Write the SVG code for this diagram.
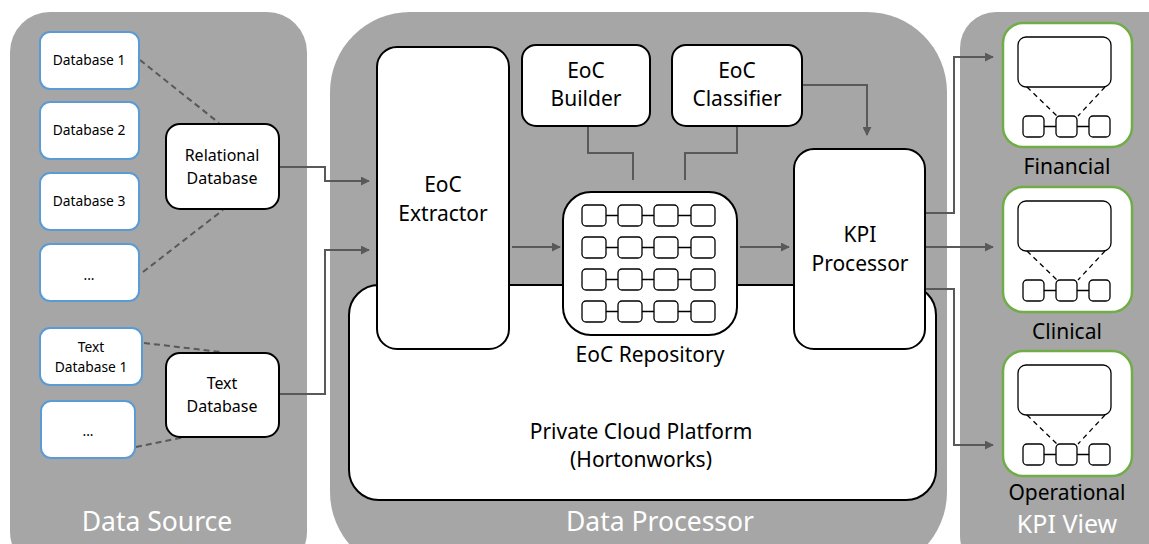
<svg xmlns="http://www.w3.org/2000/svg" width="1149" height="544" viewBox="0 0 1149 544">
<style>
.panel{fill:#a6a6a6}
.src{fill:#fff;stroke:#5b9bd5;stroke-width:2}
.box{fill:#fff;stroke:#000;stroke-width:2}
.card{fill:#fff;stroke:#70ad47;stroke-width:2.5}
.cell{fill:#fff;stroke:#000;stroke-width:1.3}
.link{fill:none;stroke:#000;stroke-width:1.3}
.dash{fill:none;stroke:#000;stroke-width:1.3;stroke-dasharray:5,4}
.gdash{fill:none;stroke:#595959;stroke-width:2;stroke-dasharray:6,4}
.conn{fill:none;stroke:#595959;stroke-width:2}
.t{font-family:"Noto Sans","Open Sans",sans-serif;fill:#000;text-anchor:middle}
.s{font-size:13.8px}
.m{font-size:16px}
.l{font-size:21px}
.w{font-family:"Noto Sans","Open Sans",sans-serif;fill:#fff;text-anchor:middle;font-size:26.5px}
</style>
<defs>
<marker id="ah" viewBox="0 0 10 10" refX="9" refY="5" markerWidth="4.5" markerHeight="4.5" orient="auto" markerUnits="strokeWidth">
<path d="M0,0 L10,5 L0,10 z" fill="#595959"/>
</marker>
</defs>

<g id="panel-data-source">
<rect class="panel" x="10" y="12" width="297" height="560" rx="40"/>
<text class="w" x="157" y="531">Data Source</text>
</g>
<g id="panel-data-processor">
<rect class="panel" x="330" y="12" width="617" height="560" rx="80"/>
<text class="w" x="660" y="531">Data Processor</text>
</g>
<g id="panel-kpi-view">
<rect class="panel" x="960" y="12" width="230" height="560" rx="36"/>
<text class="w" x="1067" y="533" style="font-size:25px">KPI View</text>
</g>

<g id="private-cloud">
<rect class="box" x="349" y="285" width="587" height="215" rx="30"/>
<text class="t l" x="641" y="439">Private Cloud Platform</text>
<text class="t l" x="641" y="467">(Hortonworks)</text>
</g>

<g id="connectors">
<path class="gdash" d="M140,60 L219,123"/>
<path class="gdash" d="M143,272 L223,210"/>
<path class="gdash" d="M144,343 L221,352"/>
<path class="gdash" d="M136,447 L185,437"/>
<path class="conn" d="M279,167 H325 V181 H369" marker-end="url(#ah)"/>
<path class="conn" d="M279,394 H325 V250 H369" marker-end="url(#ah)"/>
<path class="conn" d="M512,247 H560" marker-end="url(#ah)"/>
<path class="conn" d="M740,247 H789" marker-end="url(#ah)"/>
<path class="conn" d="M588,126 V153 H633 V180"/>
<path class="conn" d="M737,126 V153 H685 V180"/>
<path class="conn" d="M802,85 H867 V135" marker-end="url(#ah)"/>
<path class="conn" d="M925,213 H954 V57 H993" marker-end="url(#ah)"/>
<path class="conn" d="M925,247 H993" marker-end="url(#ah)"/>
<path class="conn" d="M925,289 H954 V445 H993" marker-end="url(#ah)"/>
</g>

<g id="db1"><rect class="src" x="40" y="32" width="99" height="57" rx="10"/><text class="t s" x="89" y="65">Database 1</text></g>
<g id="db2"><rect class="src" x="40" y="102" width="99" height="57" rx="10"/><text class="t s" x="89" y="135">Database 2</text></g>
<g id="db3"><rect class="src" x="40" y="173" width="99" height="57" rx="10"/><text class="t s" x="89" y="206">Database 3</text></g>
<g id="db-more"><rect class="src" x="40" y="244" width="99" height="57" rx="10"/><text class="t s" x="89" y="280">...</text></g>
<g id="textdb1"><rect class="src" x="40" y="328" width="102" height="57" rx="10"/><text class="t s" x="91" y="352">Text</text><text class="t s" x="91" y="372">Database 1</text></g>
<g id="textdb-more"><rect class="src" x="41" y="401" width="94" height="57" rx="10"/><text class="t s" x="88" y="436">...</text></g>

<g id="relational-db"><rect class="box" x="166" y="124" width="113" height="85" rx="14"/><text class="t m" x="222" y="161">Relational</text><text class="t m" x="222" y="184">Database</text></g>
<g id="text-db"><rect class="box" x="166" y="353" width="113" height="84" rx="14"/><text class="t m" x="222" y="389">Text</text><text class="t m" x="222" y="412">Database</text></g>

<g id="eoc-extractor"><rect class="box" x="377" y="47" width="132" height="302" rx="20"/><text class="t l" x="443" y="192">EoC</text><text class="t l" x="443" y="221">Extractor</text></g>
<g id="eoc-builder"><rect class="box" x="522" y="45" width="128" height="81" rx="14"/><text class="t l" x="586" y="78">EoC</text><text class="t l" x="586" y="106">Builder</text></g>
<g id="eoc-classifier"><rect class="box" x="672" y="45" width="130" height="81" rx="14"/><text class="t l" x="737" y="78">EoC</text><text class="t l" x="737" y="106">Classifier</text></g>

<g id="eoc-repository">
<rect class="box" x="563" y="192" width="174" height="143" rx="28"/>
<g id="repo-links">
<path class="link" d="M606,215.5 H618 M642,215.5 H654 M678,215.5 H691 M606,247.5 H618 M642,247.5 H654 M678,247.5 H691 M606,279.5 H618 M642,279.5 H654 M678,279.5 H691 M606,311.5 H618 M642,311.5 H654 M678,311.5 H691"/>
</g>
<rect class="cell" x="582" y="205" width="24" height="21" rx="4"/><rect class="cell" x="618" y="205" width="24" height="21" rx="4"/><rect class="cell" x="654" y="205" width="24" height="21" rx="4"/><rect class="cell" x="691" y="205" width="24" height="21" rx="4"/>
<rect class="cell" x="582" y="237" width="24" height="21" rx="4"/><rect class="cell" x="618" y="237" width="24" height="21" rx="4"/><rect class="cell" x="654" y="237" width="24" height="21" rx="4"/><rect class="cell" x="691" y="237" width="24" height="21" rx="4"/>
<rect class="cell" x="582" y="269" width="24" height="21" rx="4"/><rect class="cell" x="618" y="269" width="24" height="21" rx="4"/><rect class="cell" x="654" y="269" width="24" height="21" rx="4"/><rect class="cell" x="691" y="269" width="24" height="21" rx="4"/>
<rect class="cell" x="582" y="301" width="24" height="21" rx="4"/><rect class="cell" x="618" y="301" width="24" height="21" rx="4"/><rect class="cell" x="654" y="301" width="24" height="21" rx="4"/><rect class="cell" x="691" y="301" width="24" height="21" rx="4"/>
<text class="t l" x="650" y="362">EoC Repository</text>
</g>

<g id="kpi-processor"><rect class="box" x="794" y="149" width="131" height="200" rx="20"/><text class="t l" x="860" y="242">KPI</text><text class="t l" x="860" y="271">Processor</text></g>

<defs>
<g id="mini">
<rect class="cell" x="15" y="14" width="93" height="50" rx="8"/>
<path class="dash" d="M24,64 L54,93 M102,64 L75,93"/>
<path class="link" d="M41,103.5 H53 M74,103.5 H86"/>
<rect class="cell" x="20" y="93" width="21" height="21" rx="4"/>
<rect class="cell" x="53" y="93" width="21" height="21" rx="4"/>
<rect class="cell" x="86" y="93" width="21" height="21" rx="4"/>
</g>
</defs>

<g id="kpi-financial"><rect class="card" x="1003" y="23" width="129" height="124" rx="20"/><use href="#mini" x="1003" y="23"/><text class="t l" x="1067" y="174">Financial</text></g>
<g id="kpi-clinical"><rect class="card" x="1003" y="187" width="129" height="125" rx="20"/><use href="#mini" x="1003" y="187"/><text class="t l" x="1067" y="339">Clinical</text></g>
<g id="kpi-operational"><rect class="card" x="1003" y="351" width="129" height="125" rx="20"/><use href="#mini" x="1003" y="351"/><text class="t l" x="1067" y="500">Operational</text></g>
</svg>
